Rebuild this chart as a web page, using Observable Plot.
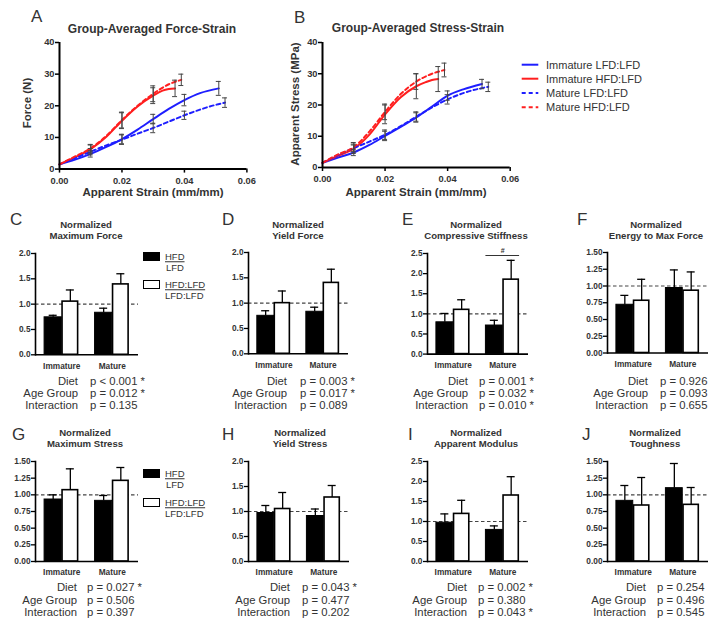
<!DOCTYPE html>
<html><head><meta charset="utf-8">
<script src="https://cdn.jsdelivr.net/npm/d3@7"></script>
<script src="https://cdn.jsdelivr.net/npm/@observablehq/plot@0.6"></script>
<style>
body{margin:0;background:#fff;}
#root{position:relative;width:719px;height:629px;overflow:hidden;font-family:"Liberation Sans",Arial,sans-serif;color:#333;background:#fff;}
.abs{position:absolute;white-space:nowrap;line-height:1;}
</style></head><body><div id="root"></div>
<script>
// ---------------- DATA: curves (panels A, B) ----------------
const seriesNames = ["Immature LFD:LFD","Immature HFD:LFD","Mature LFD:LFD","Mature HFD:LFD"];
const seriesColors = ["#1e1eff","#ff1e1e","#1e1eff","#ff1e1e"];
const seriesDash = [null, null, "4,3", "4,3"];

const strainImmLFD = [0,0.005,0.01,0.015,0.02,0.025,0.03,0.035,0.04,0.045,0.051];
const strainImmHFD = [0,0.005,0.01,0.015,0.02,0.025,0.03,0.033,0.035,0.037];
const strainMatLFD = [0,0.005,0.01,0.015,0.02,0.025,0.03,0.035,0.04,0.045,0.05,0.053];
const strainMatHFD = [0,0.005,0.01,0.015,0.02,0.025,0.03,0.035,0.039];

const forceImmLFD = [1.5,3.0,4.8,7.0,9.5,12.5,15.8,19.0,21.8,24.0,25.5];
const forceImmHFD = [1.5,3.8,6.3,10.2,15.3,19.8,23.2,24.8,25.3,25.5];
const forceMatLFD = [1.5,3.5,5.5,7.5,9.3,11.2,13.0,15.0,17.0,18.8,20.3,21.0];
const forceMatHFD = [1.5,4.0,6.6,10.5,15.5,20.0,23.8,26.8,28.2];

const stressImmLFD = [1.5,3.2,4.8,7.2,10.1,13.0,16.0,19.5,23.0,25.0,26.7];
const stressImmHFD = [1.5,3.8,6.0,10.5,17.0,22.5,26.0,27.3,28.0,28.3];
const stressMatLFD = [1.5,4.0,6.2,8.3,10.5,13.2,16.3,19.2,21.8,23.8,25.2,25.8];
const stressMatHFD = [1.5,4.2,6.5,11.5,17.8,23.5,27.5,30.0,31.2];

// error bars: indices into the curve arrays, and SEM
const errIdxImmLFD = [2,4,6,8,10];
const errIdxImmHFD = [2,4,6,9];
const errIdxMatLFD = [2,4,6,8,11];
const errIdxMatHFD = [2,4,6,8];
const forceSemImmLFD = [1.0,1.5,1.5,1.8,2.2];
const forceSemImmHFD = [1.3,2.5,2.5,2.6];
const forceSemMatLFD = [1.0,1.5,1.5,1.3,1.5];
const forceSemMatHFD = [1.2,2.5,2.5,1.8];
const stressSemImmLFD = [1.0,1.5,1.5,1.5,1.5];
const stressSemImmHFD = [1.5,3.0,4.0,4.0];
const stressSemMatLFD = [1.0,1.5,1.5,1.5,1.5];
const stressSemMatHFD = [1.5,2.5,2.5,2.2];

const strainTicks = [0,0.02,0.04,0.06];
const curveYTicks = [0,10,20,30,40];

// ---------------- DATA: normalized bars (panels C-J) ----------------
const groups = ["Immature","Mature"];
const barLegend = [["HFD","LFD"],["HFD:LFD","LFD:LFD"]];
const cHFD=[0.74,0.83], cHFDsem=[0.04,0.09], cRel=[1.05,1.39], cRelsem=[0.23,0.21];
const dHFD=[0.75,0.83], dHFDsem=[0.10,0.09], dRel=[1.00,1.40], dRelsem=[0.24,0.27];
const eHFD=[0.79,0.71], eHFDsem=[0.22,0.13], eRel=[1.10,1.85], eRelsem=[0.25,0.48];
const fHFD=[0.72,0.97], fHFDsem=[0.14,0.27], fRel=[0.78,0.93], fRelsem=[0.32,0.28];
const gHFD=[0.93,0.91], gHFDsem=[0.07,0.08], gRel=[1.07,1.21], gRelsem=[0.32,0.20];
const hHFD=[0.97,0.91], hHFDsem=[0.15,0.14], hRel=[1.05,1.28], hRelsem=[0.33,0.24];
const iHFD=[0.97,0.79], iHFDsem=[0.22,0.10], iRel=[1.19,1.65], iRelsem=[0.34,0.47];
const jHFD=[0.91,1.10], jHFDsem=[0.23,0.37], jRel=[0.84,0.85], jRelsem=[0.42,0.26];
const eSigGroup=["Mature"], eSigY=[2.45], eSigLabel=["#"];

const ticks20 = [0,0.5,1.0,1.5,2.0];
const ticks25 = [0,0.5,1.0,1.5,2.0,2.5];
const ticks150 = [0,0.25,0.5,0.75,1.0,1.25,1.5];

const barTitles = {
  C:["Normalized","Maximum Force"], D:["Normalized","Yield  Force"],
  E:["Normalized","Compressive Stiffness"], F:["Normalized","Energy to Max Force"],
  G:["Normalized","Maximum Stress"], H:["Normalized","Yield Stress"],
  I:["Normalized","Apparent Modulus"], J:["Normalized","Toughness"]
};
const statLabels = ["Diet","Age Group","Interaction"];
const statsC = ["p < 0.001 *","p = 0.012 *","p = 0.135"];
const statsD = ["p = 0.003 *","p = 0.017 *","p = 0.089"];
const statsE = ["p = 0.001 *","p = 0.032 *","p = 0.010 *"];
const statsF = ["p = 0.926","p = 0.093","p = 0.655"];
const statsG = ["p = 0.027 *","p = 0.506","p = 0.397"];
const statsH = ["p = 0.043 *","p = 0.477","p = 0.202"];
const statsI = ["p = 0.002 *","p = 0.380","p = 0.043 *"];
const statsJ = ["p = 0.254","p = 0.496","p = 0.545"];

// ---------------- helpers ----------------
const root = document.getElementById("root");
function txt(s, x, cy, o={}) {
  const {anchor="start", size=11, weight="normal", color="#333", rotate=0, underline=false} = o;
  const d = document.createElement("div");
  d.className = "abs"; d.textContent = s;
  d.style.fontSize = size+"px"; d.style.fontWeight = weight; d.style.color = color;
  d.style.left = x+"px"; d.style.top = cy+"px";
  const tx = anchor==="middle" ? "-50%" : anchor==="end" ? "-100%" : "0";
  d.style.transform = `translate(${tx},-50%)` + (rotate ? ` rotate(${rotate}deg)` : "");
  if (underline) { d.style.textDecoration = "underline"; d.style.textUnderlineOffset = "1px"; }
  root.appendChild(d);
}
function put(svg, left, top) {
  svg.style.position = "absolute"; svg.style.left = left+"px"; svg.style.top = top+"px";
  svg.style.overflow = "visible";
  root.appendChild(svg);
}
const baseStyle = {fontFamily:"Liberation Sans, Arial, sans-serif", color:"#333", background:"transparent", overflow:"visible"};

// ---------------- curve panels ----------------
function buildSeries(strains, vals, idxs, sems) {
  return seriesNames.map((name,k) => ({
    name, color: seriesColors[k], dash: seriesDash[k],
    pts: strains[k].map((x,i) => ({x, y: vals[k][i]})),
    errs: idxs[k].map((ix,j) => ({x: strains[k][ix], lo: vals[k][ix]-sems[k][j], hi: vals[k][ix]+sems[k][j]}))
  }));
}
const strainsAll = [strainImmLFD, strainImmHFD, strainMatLFD, strainMatHFD];
const idxAll = [errIdxImmLFD, errIdxImmHFD, errIdxMatLFD, errIdxMatHFD];
const seriesA = buildSeries(strainsAll, [forceImmLFD,forceImmHFD,forceMatLFD,forceMatHFD], idxAll,
  [forceSemImmLFD,forceSemImmHFD,forceSemMatLFD,forceSemMatHFD]);
const seriesB = buildSeries(strainsAll, [stressImmLFD,stressImmHFD,stressMatLFD,stressMatHFD], idxAll,
  [stressSemImmLFD,stressSemImmHFD,stressSemMatLFD,stressSemMatHFD]);

function curvePanel(series, L) {
  const ml=32, mr=16, mt=6, mb=22;
  const w = L.right - L.axisX + ml + mr, h = L.bottom - L.top + mt + mb;
  const marks = [];
  series.forEach(s => marks.push(Plot.line(s.pts, {x:"x", y:"y", stroke:s.color, strokeWidth:2, strokeDasharray:s.dash, curve:"monotone-x"})));
  const errs = series.flatMap(s => s.errs);
  marks.push(Plot.ruleX(errs, {x:"x", y1:"lo", y2:"hi", stroke:"#444", strokeWidth:1}));
  marks.push(Plot.ruleY(errs, {x1:"x", x2:"x", y:"hi", insetLeft:-2.5, insetRight:-2.5, stroke:"#444", strokeWidth:1}));
  marks.push(Plot.ruleY(errs, {x1:"x", x2:"x", y:"lo", insetLeft:-2.5, insetRight:-2.5, stroke:"#444", strokeWidth:1}));
  marks.push(Plot.ruleX([0], {stroke:"#000", strokeWidth:2}));
  marks.push(Plot.ruleY([0], {stroke:"#000", strokeWidth:2}));
  marks.push(Plot.axisX({ticks:strainTicks, tickFormat:d3.format(".2f"), tickSize:4, tickPadding:4, fontWeight:"bold", fontSize:9.3, label:null, stroke:"#000", strokeWidth:1.5, fill:"#333"}));
  marks.push(Plot.axisY({ticks:curveYTicks, tickSize:4, tickPadding:1, fontWeight:"bold", fontSize:9.3, label:null, stroke:"#000", strokeWidth:1.5, fill:"#333"}));
  const svg = Plot.plot({width:w, height:h, marginLeft:ml, marginRight:mr, marginTop:mt, marginBottom:mb,
    x:{domain:[0,0.06]}, y:{domain:[0,40]}, style:baseStyle, marks});
  put(svg, L.axisX - ml, L.top - mt);
}
curvePanel(seriesA, {axisX:59.3, right:246.7, top:41.7, bottom:168.3});
curvePanel(seriesB, {axisX:322.3, right:510, top:41.7, bottom:166.7});

txt("A", 31, 16, {size:17});
txt("B", 294, 17, {size:17});
txt("Group-Averaged Force-Strain", 152, 29, {anchor:"middle", size:12, weight:"bold"});
txt("Group-Averaged Stress-Strain", 418, 28, {anchor:"middle", size:12, weight:"bold"});
txt("Apparent Strain (mm/mm)", 153, 193, {anchor:"middle", size:11.5, weight:"bold"});
txt("Apparent Strain (mm/mm)", 416, 193, {anchor:"middle", size:11.5, weight:"bold"});
txt("Force  (N)", 28, 103, {anchor:"middle", size:11.5, weight:"bold", rotate:-90});
txt("Apparent Stress (MPa)", 296, 104, {anchor:"middle", size:11.5, weight:"bold", rotate:-90});

// curve legend
(function(){
  const rowsY = [64.7, 78.7, 93, 107.3];
  const svgNS = "http://www.w3.org/2000/svg";
  const svg = document.createElementNS(svgNS, "svg");
  svg.setAttribute("width", 719); svg.setAttribute("height", 629);
  svg.style.position="absolute"; svg.style.left="0"; svg.style.top="0";
  seriesNames.forEach((n,k) => {
    const l = document.createElementNS(svgNS, "line");
    l.setAttribute("x1", 521.7); l.setAttribute("x2", 538.3);
    l.setAttribute("y1", rowsY[k]); l.setAttribute("y2", rowsY[k]);
    l.setAttribute("stroke", seriesColors[k]); l.setAttribute("stroke-width", 2);
    if (seriesDash[k]) l.setAttribute("stroke-dasharray", seriesDash[k]);
    svg.appendChild(l);
  });
  root.appendChild(svg);
  seriesNames.forEach((n,k) => txt(n, 546, rowsY[k], {size:11}));
})();

// ---------------- bar panels ----------------
const barPanels = [
  {id:"C", hfd:cHFD, hs:cHFDsem, rel:cRel, rs:cRelsem, ticks:ticks20, fmt:".1f", stats:statsC,
   L:{axisX:35, right:138, top:252.7, bottom:354, titleX:86, titleY:225, letterX:10, letterY:219, statR:78, statV:90, statY:381.6}},
  {id:"D", hfd:dHFD, hs:dHFDsem, rel:dRel, rs:dRelsem, ticks:ticks20, fmt:".1f", stats:statsD,
   L:{axisX:248, right:348, top:252, bottom:353.3, titleX:298, titleY:225, letterX:222, letterY:219, statR:287, statV:300, statY:381.6}},
  {id:"E", hfd:eHFD, hs:eHFDsem, rel:eRel, rs:eRelsem, ticks:ticks25, fmt:".1f", stats:statsE,
   L:{axisX:427, right:528, top:252.7, bottom:353.3, titleX:476, titleY:225, letterX:402, letterY:219, statR:468, statV:479, statY:381.6}},
  {id:"F", hfd:fHFD, hs:fHFDsem, rel:fRel, rs:fRelsem, ticks:ticks150, fmt:".2f", stats:statsF,
   L:{axisX:607, right:708, top:252, bottom:352.5, titleX:656, titleY:225, letterX:577, letterY:219, statR:648, statV:660, statY:381.6}},
  {id:"G", hfd:gHFD, hs:gHFDsem, rel:gRel, rs:gRelsem, ticks:ticks150, fmt:".2f", stats:statsG,
   L:{axisX:35, right:138, top:461, bottom:561, titleX:85, titleY:432.7, letterX:12, letterY:434, statR:77, statV:87, statY:588.3}},
  {id:"H", hfd:hHFD, hs:hHFDsem, rel:hRel, rs:hRelsem, ticks:ticks20, fmt:".1f", stats:statsH,
   L:{axisX:248, right:349, top:460.5, bottom:560.5, titleX:300, titleY:432.7, letterX:222, letterY:434, statR:290, statV:302, statY:588.3}},
  {id:"I", hfd:iHFD, hs:iHFDsem, rel:iRel, rs:iRelsem, ticks:ticks25, fmt:".1f", stats:statsI,
   L:{axisX:427, right:528, top:460.5, bottom:560.5, titleX:476, titleY:432.7, letterX:408, letterY:434, statR:467, statV:478, statY:588.3}},
  {id:"J", hfd:jHFD, hs:jHFDsem, rel:jRel, rs:jRelsem, ticks:ticks150, fmt:".2f", stats:statsJ,
   L:{axisX:607, right:708, top:460.5, bottom:560.5, titleX:655, titleY:432.7, letterX:582, letterY:434, statR:646, statV:657, statY:588.3}}
];

function barPanel(p) {
  const L = p.L;
  const ml=30, mr=2, mt=6, mb=20;
  const w = L.right - L.axisX + ml + mr, h = L.bottom - L.top + mt + mb;
  const pi = 0.32, po = 0.18;
  const step = (L.right - L.axisX) / (2 - pi + 2*po), bw = step*(1-pi);
  const hfdRows = groups.map((g,i) => ({g, v:p.hfd[i], top:p.hfd[i]+p.hs[i]}));
  const relRows = groups.map((g,i) => ({g, v:p.rel[i], top:p.rel[i]+p.rs[i]}));
  const ymax = p.ticks[p.ticks.length-1];
  const marks = [
    Plot.ruleY([1], {stroke:"#444", strokeDasharray:"3.5,2.5", strokeWidth:1.2}),
    Plot.barY(hfdRows, {x:"g", y:"v", fill:"#000", stroke:"#000", strokeWidth:1, insetRight:bw/2}),
    Plot.barY(relRows, {x:"g", y:"v", fill:"#fff", stroke:"#000", strokeWidth:1.6, insetLeft:bw/2 + 0.8, insetRight:0.8}),
    Plot.ruleX(hfdRows, {x:"g", y1:"v", y2:"top", dx:-bw/4, stroke:"#000", strokeWidth:1.3}),
    Plot.tickY(hfdRows, {x:"g", y:"top", insetLeft:bw/4-4, insetRight:3*bw/4-4, stroke:"#000", strokeWidth:1.3}),
    Plot.ruleX(relRows, {x:"g", y1:"v", y2:"top", dx:bw/4, stroke:"#000", strokeWidth:1.3}),
    Plot.tickY(relRows, {x:"g", y:"top", insetLeft:3*bw/4-4, insetRight:bw/4-4, stroke:"#000", strokeWidth:1.3}),
    Plot.ruleY([0], {stroke:"#000", strokeWidth:1.6}),
    Plot.frame({anchor:"left", stroke:"#000", strokeWidth:1.6}),
    Plot.axisY({ticks:p.ticks, tickFormat:d3.format(p.fmt), tickSize:4, tickPadding:1, fontWeight:"bold", fontSize:8.3, label:null, stroke:"#000", strokeWidth:1.3, fill:"#333"}),
    Plot.axisX({tickSize:0, tickPadding:8, fontWeight:"bold", fontSize:8.3, label:null, fill:"#333"})
  ];
  if (p.id === "E") {
    const sig = eSigGroup.map((g,i) => ({g, y:eSigY[i], label:eSigLabel[i]}));
    marks.push(Plot.tickY(sig, {x:"g", y:"y", stroke:"#333", strokeWidth:1}));
    marks.push(Plot.text(sig, {x:"g", y:"y", text:"label", dy:-5, fontSize:7, fontWeight:"bold", fill:"#333"}));
  }
  const svg = Plot.plot({width:w, height:h, marginLeft:ml, marginRight:mr, marginTop:mt, marginBottom:mb,
    x:{domain:groups, paddingInner:pi, paddingOuter:po, round:false},
    y:{domain:[0,ymax]}, style:baseStyle, marks});
  put(svg, L.axisX - ml, L.top - mt);

  txt(p.id, L.letterX, L.letterY, {size:17});
  txt(barTitles[p.id][0], L.titleX, L.titleY, {anchor:"middle", size:9.6, weight:"bold"});
  txt(barTitles[p.id][1], L.titleX, L.titleY + 11, {anchor:"middle", size:9.6, weight:"bold"});
  statLabels.forEach((lab,k) => {
    txt(lab, L.statR, L.statY + k*12.4, {anchor:"end", size:11.3});
    txt(p.stats[k], L.statV, L.statY + k*12.4, {size:11.3});
  });
}
barPanels.forEach(barPanel);

// bar legends (rows 1 and 2)
function barLegendAt(y0, y1) {
  const mk = (top, fill) => {
    const d = document.createElement("div");
    d.style.position="absolute"; d.style.left="143px"; d.style.top=top+"px";
    d.style.width="15px"; d.style.height="7px"; d.style.background=fill; d.style.border="1.6px solid #000";
    root.appendChild(d);
  };
  mk(y0, "#000"); mk(y1, "#fff");
  txt(barLegend[0][0], 165, y0+5, {size:9.5, underline:true});
  txt(barLegend[0][1], 166, y0+16, {size:9.5});
  txt(barLegend[1][0], 165, y1+5, {size:9.5, underline:true});
  txt(barLegend[1][1], 165, y1+16, {size:9.5});
}
barLegendAt(252, 280);
barLegendAt(469, 498);
</script></body></html>
